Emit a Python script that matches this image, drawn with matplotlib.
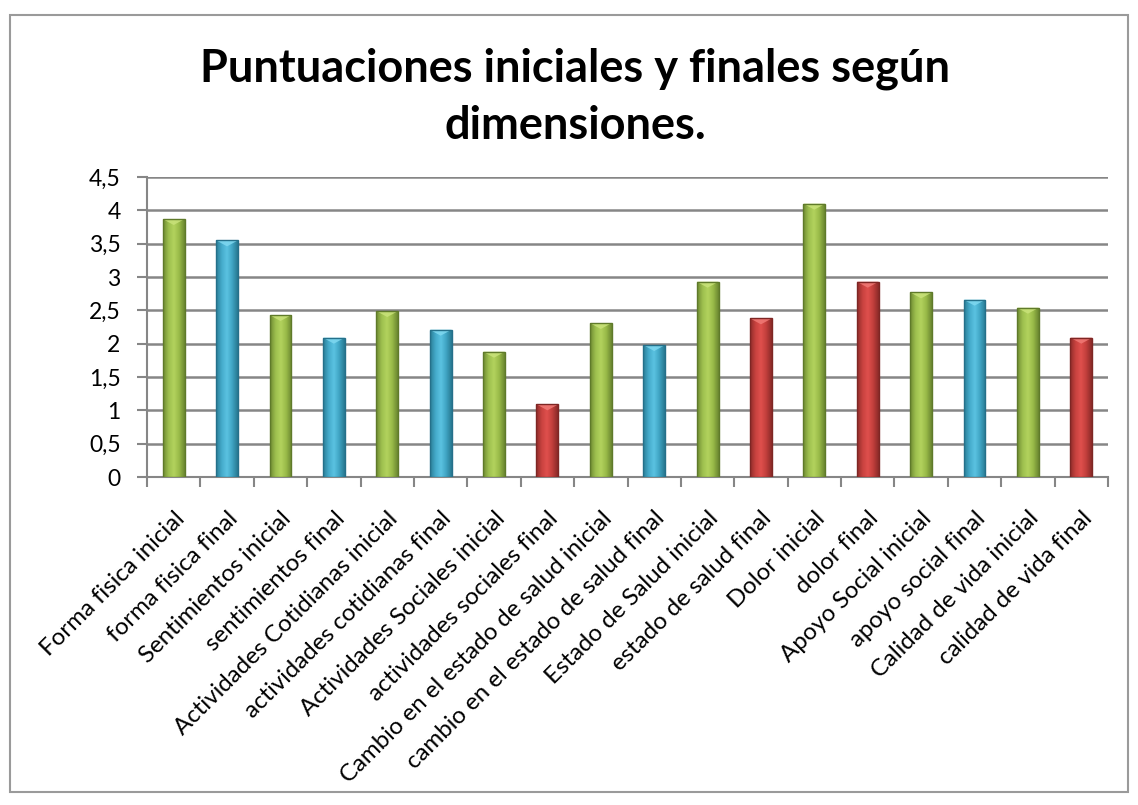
import numpy as np
import matplotlib
matplotlib.use('Agg')
import matplotlib.pyplot as plt
from matplotlib.colors import LinearSegmentedColormap
from matplotlib.patches import Rectangle, Polygon

plt.rcParams['font.family'] = ['Lato', 'DejaVu Sans']

# datos
categorias = [
    'Forma fisica inicial', 'forma fisica final',
    'Sentimientos inicial', 'sentimientos final',
    'Actividades Cotidianas inicial', 'actividades cotidianas final',
    'Actividades Sociales inicial', 'actividades sociales final',
    'Cambio en el estado de salud inicial', 'cambio en el estado de salud final',
    'Estado de Salud inicial', 'estado de salud final',
    'Dolor inicial', 'dolor final',
    'Apoyo Social inicial', 'apoyo social final',
    'Calidad de vida inicial', 'calidad de vida final',
]
valores = [3.87, 3.55, 2.43, 2.09, 2.49, 2.21, 1.88, 1.09, 2.31,
           1.98, 2.93, 2.38, 4.10, 2.93, 2.77, 2.66, 2.54, 2.09]
tipo = ['g', 'b', 'g', 'b', 'g', 'b', 'g', 'r', 'g',
        'b', 'g', 'r', 'g', 'r', 'g', 'b', 'g', 'r']
y_ticks = [0, 0.5, 1, 1.5, 2, 2.5, 3, 3.5, 4, 4.5]
y_labels = ['0', '0,5', '1', '1,5', '2', '2,5', '3', '3,5', '4', '4,5']

# degradados tipo Excel (oscuro - claro - oscuro)
paletas = {
    'g': ['#6E8A32', '#9DBF4E', '#B3D35E', '#98B948', '#6A8630'],
    'b': ['#2A7E96', '#44AACA', '#5BC3E2', '#3FA3C2', '#277890'],
    'r': ['#8E2C2A', '#C8423F', '#E0504D', '#C03E3B', '#8A2A28'],
}
tapas = {'g': '#C9E27A', 'b': '#7FD8F0', 'r': '#F07A76'}
bordes = {'g': '#5F7A2A', 'b': '#25708A', 'r': '#7E2624'}

fig = plt.figure(figsize=(11.38, 8.05), dpi=100)
fig.patches.append(Rectangle((10 / 1138, 1 - 792 / 805), 1118 / 1138, 777 / 805,
                             transform=fig.transFigure, fill=False,
                             edgecolor='#9A9A9A', linewidth=1.5))

ax = fig.add_axes([147 / 1138, 1 - 477 / 805, 961 / 1138, 300 / 805])

x = np.arange(len(categorias))
ancho = 0.41
barras = ax.bar(x, valores, width=ancho, color='none', zorder=3)
grad = np.linspace(0, 1, 64).reshape(1, -1)
for b, t in zip(barras, tipo):
    cmap = LinearSegmentedColormap.from_list('c' + t, paletas[t])
    x0, w, h = b.get_x(), b.get_width(), b.get_height()
    im = ax.imshow(grad, cmap=cmap, aspect='auto', extent=(x0, x0 + w, 0, h),
                   zorder=3, interpolation='bicubic')
    im.set_clip_path(b)
    # bisel superior
    ax.add_patch(Polygon([(x0, h), (x0 + w, h), (x0 + w / 2, h - 0.09)],
                         closed=True, facecolor=tapas[t], edgecolor='none',
                         alpha=0.85, zorder=4))
    ax.add_patch(Rectangle((x0, 0), w, h, fill=False, edgecolor=bordes[t],
                           linewidth=1.0, zorder=4))

ax.set_xlim(-0.5, len(categorias) - 0.5)
ax.set_ylim(0, 4.5)
ax.set_yticks(y_ticks)
ax.set_yticklabels(y_labels, fontsize=16.5)
ax.set_xticks(x)
ax.set_xticklabels(categorias, rotation=45, ha='right', rotation_mode='anchor',
                   fontsize=17.3)
ax.set_xticks(np.arange(-0.5, len(categorias)), minor=True)
ax.tick_params(axis='x', which='major', length=0, pad=22)
ax.tick_params(axis='x', which='minor', length=7, color='#868686', width=1.5)
ax.tick_params(axis='y', length=7, color='#868686', width=1.5, pad=12)
ax.grid(axis='y', color='#868686', linewidth=1.8, zorder=0)
for s in ['top', 'right']:
    ax.spines[s].set_visible(False)
for s in ['left', 'bottom']:
    ax.spines[s].set_color('#868686')
    ax.spines[s].set_linewidth(1.5)

fig.text(575 / 1138, 1 - 97 / 805,
         'Puntuaciones iniciales y finales según\ndimensiones.',
         ha='center', va='center', fontsize=32.5, fontweight='bold',
         linespacing=1.43)

fig.savefig('out.png', dpi=100)
